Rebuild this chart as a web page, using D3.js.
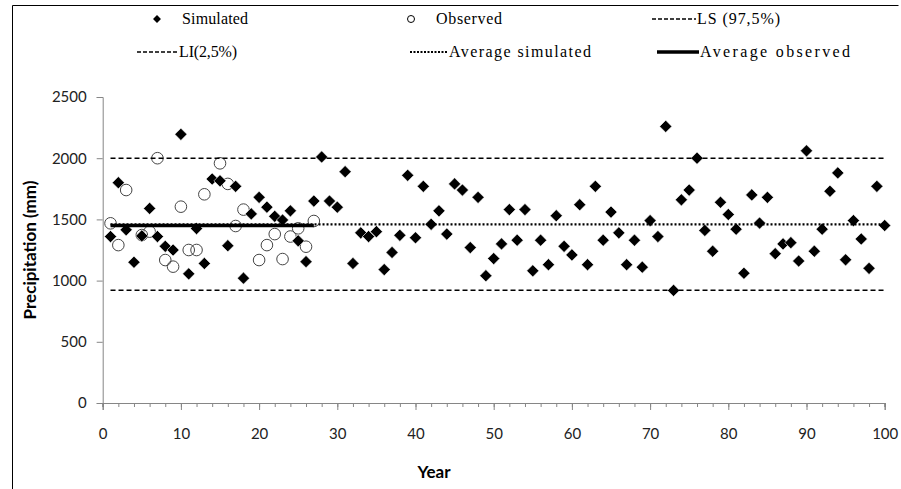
<!DOCTYPE html>
<html><head><meta charset="utf-8">
<script src="https://cdn.jsdelivr.net/npm/d3@7"></script>
<style>body{margin:0;background:#fff}</style>
</head><body>
<svg id="c" width="901" height="489"></svg>
<script>
const years = d3.range(1, 101);
const simulated = [1360,1800,1415,1150,1365,1590,1360,1280,1250,2195,1055,1425,1140,1830,1815,1285,1770,1020,1545,1680,
1600,1525,1495,1570,1325,1155,1650,2010,1650,1600,1890,1140,1390,1360,1400,1090,1230,1370,1860,1350,
1770,1460,1570,1380,1790,1740,1270,1680,1040,1180,1300,1580,1330,1580,1080,1330,1130,1530,1280,1210,
1620,1130,1770,1330,1560,1390,1130,1330,1110,1490,1360,2260,920,1660,1740,2000,1410,1240,1640,1540,
1420,1060,1700,1470,1680,1220,1300,1310,1160,2060,1240,1420,1730,1880,1170,1490,1340,1100,1770,1450];
const observedYears = [1,2,3,5,6,7,8,9,10,11,12,13,15,16,17,18,20,21,22,23,24,25,26,27];
const observed = [1468,1290,1740,1372,1400,2000,1168,1114,1604,1250,1250,1705,1958,1790,1446,1580,1168,1290,1380,1176,1360,1427,1277,1487];
const limitUpper = 2000;   // LS (97,5%)
const limitLower = 921;    // LI (2,5%)
const avgSimulated = 1460;
const avgObserved = 1450;
const avgObservedRange = [1, 27];
const xTicks = [0,10,20,30,40,50,60,70,80,90,100];
const yTicks = [0,500,1000,1500,2000,2500];
const legendLabels = ["Simulated","Observed","LS (97,5%)","LI(2,5%)","Average simulated","Average observed"];

const svg = d3.select("#c");
const x = d3.scaleLinear().domain([0,100]).range([102.7,884.7]);
const y = d3.scaleLinear().domain([0,2500]).range([403,97]);
const axisColor = "#868686";
const tickFont = "Lato, 'Liberation Sans', sans-serif";

// frame
svg.append("path").attr("d","M12.5,489 V5.5 H898.5").attr("fill","none").attr("stroke","#000").attr("stroke-width",1);

// axes
const gx = svg.append("g").attr("transform",`translate(0,${y(0)})`);
gx.call(d3.axisBottom(x).tickValues(d3.range(0,101,2)).tickSize(4).tickFormat(""));
gx.call(g=>g.selectAll(".tick line").attr("stroke",axisColor));
const gx2 = svg.append("g").attr("transform",`translate(0,${y(0)})`);
gx2.call(d3.axisBottom(x).tickValues(xTicks).tickSize(7).tickPadding(18).tickFormat(d3.format("d")));
gx2.selectAll(".domain").attr("stroke",axisColor);
gx2.selectAll(".tick line").attr("stroke",axisColor);
gx2.selectAll(".tick text").attr("font-family",tickFont).attr("font-size",15).attr("fill","#222");

const gy = svg.append("g").attr("transform",`translate(${x(0)},0)`);
gy.call(d3.axisLeft(y).tickValues(yTicks).tickSize(6).tickPadding(10).tickFormat(d3.format("d")));
gy.selectAll(".domain").attr("stroke",axisColor);
gy.selectAll(".tick line").attr("stroke",axisColor);
gy.selectAll(".tick text").attr("font-family",tickFont).attr("font-size",15).attr("fill","#222");

// axis titles
svg.append("text").attr("x",434).attr("y",478).attr("text-anchor","middle")
  .attr("font-family",tickFont).attr("font-weight","bold").attr("font-size",17).text("Year");
svg.append("text").attr("transform",`translate(36,${y(1250)}) rotate(-90)`).attr("text-anchor","middle")
  .attr("font-family",tickFont).attr("font-weight","bold").attr("font-size",17).text("Precipitation (mm)");

// observed circles
svg.append("g").selectAll("circle").data(observed).join("circle")
  .attr("cx",(d,i)=>x(observedYears[i])).attr("cy",d=>y(d)).attr("r",5.8)
  .attr("fill","none").attr("stroke","#444").attr("stroke-width",1);

// simulated diamonds
const diamond = d3.symbol().type(d3.symbolDiamond2).size(95);
svg.append("g").selectAll("path").data(simulated).join("path")
  .attr("d",diamond).attr("transform",(d,i)=>`translate(${x(years[i])},${y(d)})`)
  .attr("fill","#000").attr("stroke","#fff").attr("stroke-width",0.6);

// reference lines
const line = d3.line().x(d=>x(d[0])).y(d=>y(d[1]));
svg.append("path").attr("d",line([[1,limitUpper],[100,limitUpper]])).attr("stroke","#000").attr("stroke-width",1.6).attr("stroke-dasharray","5,3").attr("fill","none");
svg.append("path").attr("d",line([[1,limitLower],[100,limitLower]])).attr("stroke","#000").attr("stroke-width",1.6).attr("stroke-dasharray","5,3").attr("fill","none");
svg.append("path").attr("d",line([[1,avgSimulated],[100,avgSimulated]])).attr("stroke","#000").attr("stroke-width",2.2).attr("stroke-dasharray","2,2").attr("fill","none");
svg.append("path").attr("d",line(avgObservedRange.map(v=>[v,avgObserved]))).attr("stroke","#000").attr("stroke-width",3.5).attr("fill","none");

// legend
const lg = svg.append("g").attr("font-family","'Liberation Serif', 'DejaVu Serif', serif").attr("font-size",16).attr("fill","#000");
const r1 = 19, r2 = 52;
const legendTextWidths = [66, 66, 83, 58, 142, 150];
function ltext(xp, yp, i){
  lg.append("text").attr("x",xp).attr("y",yp+5).attr("textLength",legendTextWidths[i]).attr("lengthAdjust","spacing").text(legendLabels[i]);
}
lg.append("path").attr("d",d3.symbol().type(d3.symbolDiamond2).size(40)).attr("transform",`translate(157,${r1})`);
ltext(182, r1, 0);
lg.append("circle").attr("cx",411).attr("cy",r1).attr("r",3.5).attr("fill","none").attr("stroke","#000");
ltext(436, r1, 1);
lg.append("line").attr("x1",652).attr("x2",696).attr("y1",r1).attr("y2",r1).attr("stroke","#000").attr("stroke-width",1.5).attr("stroke-dasharray","4,2");
ltext(697, r1, 2);
lg.append("line").attr("x1",137).attr("x2",178).attr("y1",r2).attr("y2",r2).attr("stroke","#000").attr("stroke-width",1.5).attr("stroke-dasharray","4,2");
ltext(179, r2, 3);
lg.append("line").attr("x1",410).attr("x2",447).attr("y1",r2).attr("y2",r2).attr("stroke","#000").attr("stroke-width",2).attr("stroke-dasharray","2,1.5");
ltext(449, r2, 4);
lg.append("line").attr("x1",657).attr("x2",699).attr("y1",r2).attr("y2",r2).attr("stroke","#000").attr("stroke-width",3.5);
ltext(700, r2, 5);
</script>
</body></html>
